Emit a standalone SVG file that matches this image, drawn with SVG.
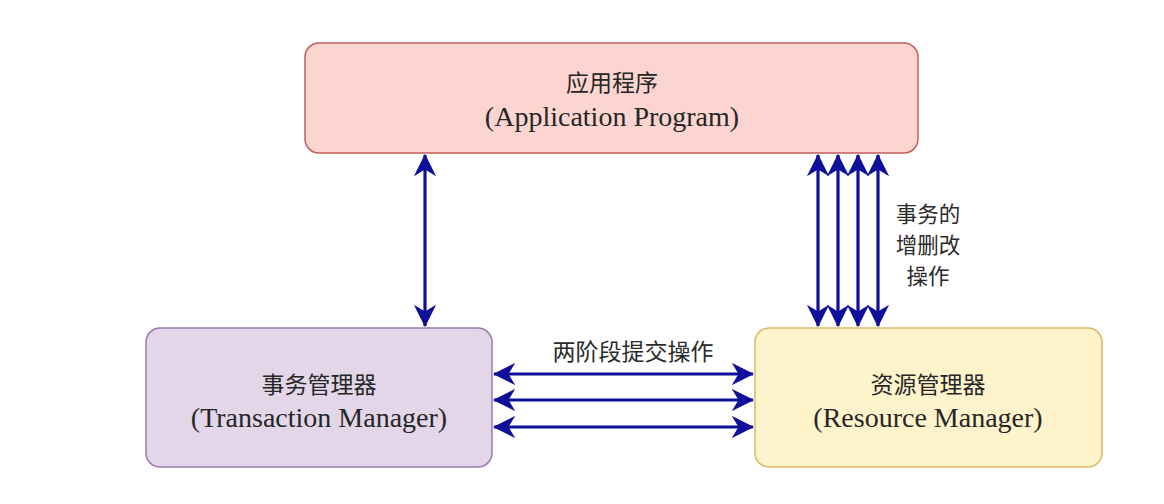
<svg xmlns="http://www.w3.org/2000/svg" width="1164" height="504" viewBox="0 0 1164 504">
<style>
.cn{font-family:"Noto Sans CJK SC","Noto Sans",sans-serif;font-size:23px;fill:#262626;text-anchor:middle}
.lb{font-family:"Noto Sans CJK SC","Noto Sans",sans-serif;font-size:23px;fill:#2a2a2a;text-anchor:middle}
.lv{font-family:"Noto Sans CJK SC","Noto Sans",sans-serif;font-size:21.5px;fill:#2a2a2a;text-anchor:middle}
.en{font-family:"Liberation Serif",serif;font-size:28px;fill:#262626;text-anchor:middle}
.c{stroke:#0f0f9a;stroke-width:3.2;fill:none;marker-start:url(#a);marker-end:url(#a)}
</style>
<defs>
<marker id="a" viewBox="0 0 10 10" refX="9.5" refY="5" markerWidth="7" markerHeight="7" orient="auto-start-reverse" markerUnits="strokeWidth">
<path d="M0,0 L10,5 L0,10 L3,5 Z" fill="#0f0f9a"/>
</marker>
</defs>
<rect width="1164" height="504" fill="#fff"/>
<g id="app">
<rect x="305" y="43" width="613" height="110" rx="14" fill="#fcd5d1" stroke="#c0605a" stroke-width="1.5"/>
<text class="cn" x="612" y="91">应用程序</text>
<text class="en" x="612" y="126">(Application Program)</text>
</g>
<g id="tm">
<rect x="146" y="328" width="346" height="139" rx="14" fill="#e2d6e8" stroke="#9a7bab" stroke-width="1.5"/>
<text class="cn" x="319" y="393">事务管理器</text>
<text class="en" x="319" y="427">(Transaction Manager)</text>
</g>
<g id="rm">
<rect x="755" y="328" width="347" height="139" rx="14" fill="#fff3cc" stroke="#d8ba60" stroke-width="1.5"/>
<text class="cn" x="928" y="393">资源管理器</text>
<text class="en" x="928" y="427">(Resource Manager)</text>
</g>
<g id="connectors">
<line class="c" x1="425" y1="155" x2="425" y2="326"/>
<line class="c" x1="818" y1="155" x2="818" y2="326"/>
<line class="c" x1="838" y1="155" x2="838" y2="326"/>
<line class="c" x1="858" y1="155" x2="858" y2="326"/>
<line class="c" x1="878" y1="155" x2="878" y2="326"/>
<line class="c" x1="494" y1="374" x2="753" y2="374"/>
<line class="c" x1="494" y1="400" x2="753" y2="400"/>
<line class="c" x1="494" y1="427" x2="753" y2="427"/>
</g>
<g id="labels">
<text class="lv" x="928" y="222">事务的</text>
<text class="lv" x="928" y="253">增删改</text>
<text class="lv" x="928" y="284">操作</text>
<text class="lb" x="633" y="360">两阶段提交操作</text>
</g>
</svg>
